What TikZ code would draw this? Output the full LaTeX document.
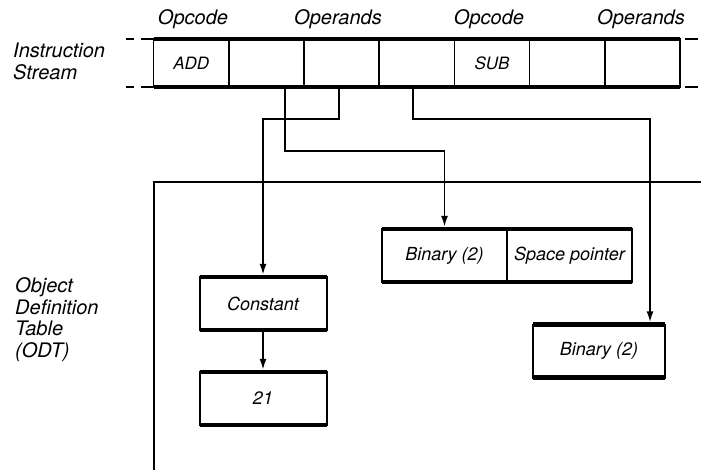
\documentclass[tikz,border=0pt]{standalone}
\usepackage{fontspec}
\setmainfont{TeX Gyre Heros}
\usetikzlibrary{positioning,arrows.meta}
\begin{document}
\begin{tikzpicture}[x=1pt,y=-1pt,
	lbl/.style={font=\fontsize{20}{21.7}\selectfont\itshape, inner sep=0pt},
	cell/.style={draw, line width=1.5pt, minimum width=75.2pt, minimum height=48pt, inner sep=0pt, outer sep=0pt, font=\fontsize{17}{20}\selectfont\itshape},
	objbox/.style={draw, line width=2pt, minimum height=53pt, inner sep=0pt, outer sep=0pt, font=\fontsize{18}{20}\selectfont\itshape},
	heavy/.style={line width=4.5pt},
	link/.style={line width=1.8pt, shorten >=2.2pt, -{Latex[length=11pt,width=7pt]}},
	extl/.style={line width=1.5pt, dash pattern=on 13pt off 7pt on 8pt},
	extr/.style={line width=1.5pt, dash pattern=on 0pt off 5pt on 13pt off 3pt on 3pt}]
			\useasboundingbox (0,0) rectangle (701,470);
			
			% labels
			\node[lbl, anchor=base] (opc1) at (193,24.5) {Opcode};
			\node[lbl, anchor=base] (opd1) at (338,24.5) {Operands};
			\node[lbl, anchor=base] (opc2) at (489,24.5) {Opcode};
			\node[lbl, anchor=base] (opd2) at (641,24.5) {Operands};
			\node[lbl, anchor=north west, align=left] (istr) at (13,42.6) {Instruction\\Stream};
			\node[lbl, anchor=north west, align=left] (odt) at (15,277.3) {Object\\Definition\\Table\\(ODT)};
			
			% instruction stream
			\foreach \i/\op in {1/ADD,2/{},3/{},4/{},5/SUB,6/{},7/{}}
				\node[cell] (s\i) at ({153.6+75.2*(\i-0.5)},63) {\op};
			\draw[heavy] (s1.north west) -- (s7.north east);
			\draw[heavy] (s1.south west) -- (s7.south east);
			\draw[extl] (s1.north west) -- ++(-28,0);
			\draw[extl] (s1.south west) -- ++(-28,0);
			\draw[extr] (s7.north east) -- ++(21,0);
			\draw[extr] (s7.south east) -- ++(21,0);
			
			% object definition table
			\draw[line width=1.5pt] (701,182) -| (154,470);
			\node[objbox, minimum width=125pt] (bin) at (444.5,255.5) {Binary (2)};
			\node[objbox, minimum width=125pt, right=0pt of bin] (sp) {Space pointer};
			\node[objbox, minimum width=127pt] (ctr) at (263,303.5) {Constant};
			\node[objbox, minimum width=127pt, below=42pt of ctr] (num) {21};
			\node[objbox, minimum width=132pt] (bin2) at (599,351) {Binary (2)};
			\foreach \b in {bin,sp,ctr,num,bin2}
				\draw[heavy] (\b.north west) -- (\b.north east) (\b.south west) -- (\b.south east);
			
			\draw[link] ([xshift=18.6pt]s2.south) -- ++(0,64) -| (bin.north);
			\draw[link] ([xshift=-2.6pt]s3.south) -- ++(0,32) -| (ctr.north);
			\draw[link] ([xshift=-4pt]s4.south) -- ++(0,32) -| ([xshift=51pt]bin2.north);
			\draw[link] (ctr.south) -- (num.north);
		\end{tikzpicture}
\end{document}
